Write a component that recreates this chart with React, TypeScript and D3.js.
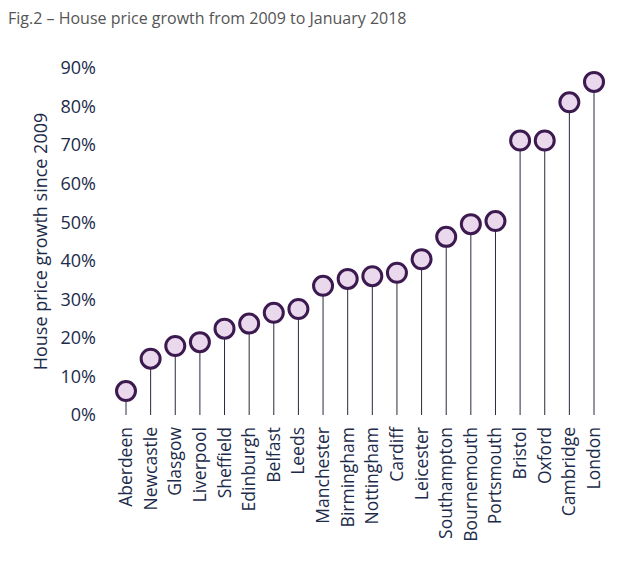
import * as d3 from "d3"

const cities = ["Aberdeen", "Newcastle", "Glasgow", "Liverpool", "Sheffield", "Edinburgh", "Belfast", "Leeds", "Manchester", "Birmingham", "Nottingham", "Cardiff", "Leicester", "Southampton", "Bournemouth", "Portsmouth", "Bristol", "Oxford", "Cambridge", "London"]
const growth = [6.2, 14.6, 17.9, 18.9, 22.4, 23.7, 26.5, 27.5, 33.5, 35.3, 36.0, 36.9, 40.4, 46.2, 49.5, 50.3, 71.2, 71.2, 81.1, 86.4]
const yTicks = [0, 10, 20, 30, 40, 50, 60, 70, 80, 90]

export default function App() {
  const width = 640
  const height = 572
  const margin = { top: 68, left: 110, right: 34, bottom: 157 }
  const innerH = height - margin.top - margin.bottom
  const x = d3.scalePoint<string>().domain(cities).range([126 - margin.left, 594 - margin.left])
  const y = d3.scaleLinear().domain([0, 90]).range([innerH, 0])
  const font = "'Open Sans', sans-serif"
  const navy = "#1c2b4a"

  return (
    <svg width={width} height={height} style={{ position: "absolute", left: 0, top: 0, background: "#fff" }}>
      <text x={8} y={24} fontFamily={font} fontSize={16} fill="#555">
        Fig.2 – House price growth from 2009 to January 2018
      </text>
      <g transform={`translate(${margin.left},${margin.top})`}>
        {yTicks.map((t) => (
          <text key={t} x={-14} y={y(t)} dy="0.35em" textAnchor="end" fontFamily={font} fontSize={18} fill={navy}>
            {t}%
          </text>
        ))}
        <text transform={`translate(-63,${innerH / 2}) rotate(-90)`} textAnchor="middle" fontFamily={font} fontSize={18} fill={navy}>
          House price growth since 2009
        </text>
        {cities.map((c, i) => (
          <g key={c}>
            <line x1={x(c)} x2={x(c)} y1={y(0)} y2={y(growth[i])} stroke="#2a2a3a" strokeWidth={1} />
            <circle cx={x(c)} cy={y(growth[i])} r={9.5} fill="#ead8ec" stroke="#3c1a50" strokeWidth={3} />
            <text transform={`translate(${x(c)! + 6},${innerH + 12}) rotate(-90)`} textAnchor="end" fontFamily={font} fontSize={17.5} fill={navy}>
              {c}
            </text>
          </g>
        ))}
      </g>
    </svg>
  )
}
